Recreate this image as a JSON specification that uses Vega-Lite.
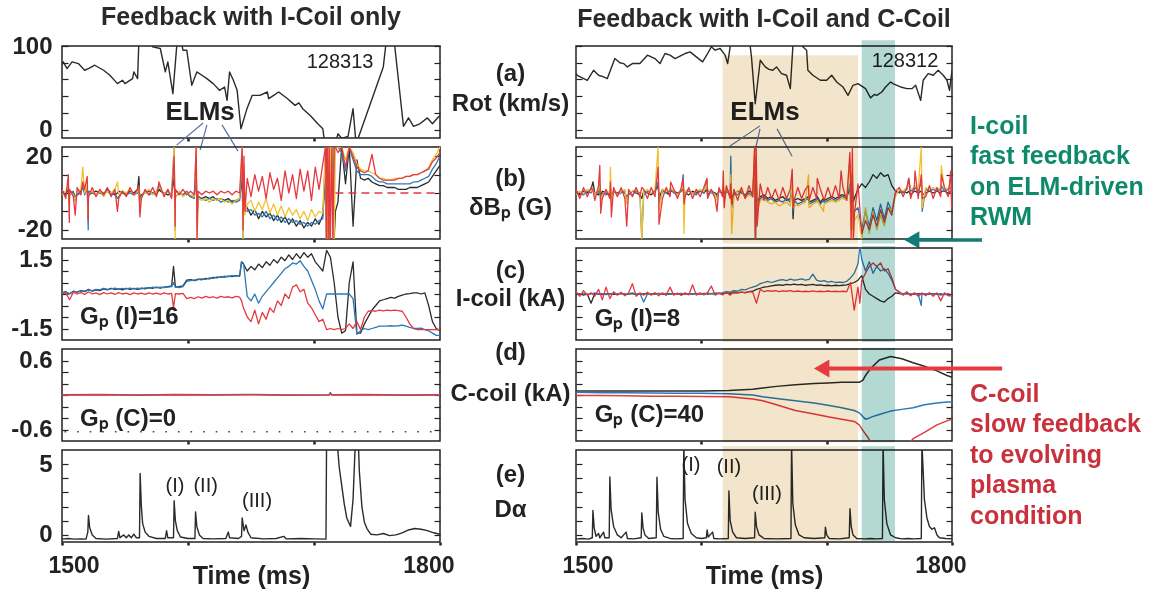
{
"$schema": "https://vega.github.io/schema/vega-lite/v6.json",
"background": "white",
"padding": {"left": 9, "top": 4, "right": 0, "bottom": 0},
"bounds": "flush",
"columns": 2,
"spacing": {"row": 9, "column": 136},
"config": {
  "view": {"stroke": "#222", "strokeWidth": 1.5},
  "axis": {"domain": false, "grid": false, "tickColor": "#222", "tickWidth": 1.2, "labelColor": "#222", "titleColor": "#222", "labelFont": "Liberation Sans", "titleFont": "Liberation Sans", "labelFontWeight": "bold", "titleFontWeight": "bold", "labelFontSize": 24, "titleFontSize": 24},
  "title": {"font": "Liberation Sans", "fontSize": 25, "fontWeight": "bold", "color": "#2a2a2a"},
  "text": {"font": "Liberation Sans", "color": "#222"}
},
"datasets": {
  "la": [{"t":1500,"v":78},{"t":1501,"v":81},{"t":1504,"v":73},{"t":1508,"v":81},{"t":1513,"v":79},{"t":1518,"v":71},{"t":1521,"v":73},{"t":1526,"v":77},{"t":1533,"v":71},{"t":1538,"v":65},{"t":1544,"v":55},{"t":1548,"v":59},{"t":1550,"v":55},{"t":1556,"v":61},{"t":1557,"v":69},{"t":1560,"v":61},{"t":1561,"v":105},{"t":1566,"v":112},{"t":1572,"v":99},{"t":1578,"v":97},{"t":1582,"v":69},{"t":1584,"v":81},{"t":1588,"v":43},{"t":1591,"v":99},{"t":1594,"v":110},{"t":1596,"v":95},{"t":1599,"v":95},{"t":1603,"v":53},{"t":1607,"v":69},{"t":1611,"v":65},{"t":1615,"v":61},{"t":1620,"v":55},{"t":1625,"v":47},{"t":1629,"v":51},{"t":1631,"v":35},{"t":1633,"v":69},{"t":1636,"v":59},{"t":1639,"v":47},{"t":1642,"v":1},{"t":1647,"v":26},{"t":1651,"v":41},{"t":1657,"v":41},{"t":1663,"v":45},{"t":1664,"v":37},{"t":1668,"v":41},{"t":1672,"v":45},{"t":1679,"v":37},{"t":1685,"v":29},{"t":1688,"v":32},{"t":1691,"v":25},{"t":1697,"v":17},{"t":1703,"v":7},{"t":1707,"v":1},{"t":1708,"v":-10.5},{"t":1718,"v":-10.5},{"t":1719,"v":-5},{"t":1722,"v":-10.5},{"t":1727,"v":-8},{"t":1731,"v":25},{"t":1733,"v":-10.5},{"t":1735,"v":-10.5},{"t":1755,"v":75},{"t":1758,"v":115},{"t":1763,"v":115},{"t":1771,"v":4},{"t":1775,"v":14},{"t":1779,"v":4},{"t":1784,"v":7},{"t":1790,"v":14},{"t":1794,"v":7},{"t":1798,"v":14},{"t":1800,"v":17}],
  "ra": [{"t":1500,"v":67},{"t":1501,"v":65},{"t":1505,"v":62},{"t":1509,"v":59},{"t":1514,"v":71},{"t":1518,"v":65},{"t":1522,"v":63},{"t":1525,"v":61},{"t":1531,"v":85},{"t":1535,"v":80},{"t":1538,"v":79},{"t":1541,"v":75},{"t":1545,"v":79},{"t":1551,"v":79},{"t":1557,"v":89},{"t":1563,"v":85},{"t":1567,"v":79},{"t":1571,"v":91},{"t":1575,"v":89},{"t":1579,"v":85},{"t":1583,"v":88},{"t":1587,"v":91},{"t":1591,"v":93},{"t":1596,"v":87},{"t":1601,"v":81},{"t":1605,"v":91},{"t":1608,"v":99},{"t":1611,"v":95},{"t":1615,"v":97},{"t":1619,"v":89},{"t":1621,"v":79},{"t":1623,"v":99},{"t":1625,"v":112},{"t":1638,"v":112},{"t":1640,"v":87},{"t":1643,"v":31},{"t":1647,"v":83},{"t":1651,"v":75},{"t":1654,"v":72},{"t":1657,"v":71},{"t":1660,"v":75},{"t":1664,"v":67},{"t":1668,"v":65},{"t":1671,"v":49},{"t":1673,"v":99},{"t":1675,"v":112},{"t":1679,"v":112},{"t":1681,"v":99},{"t":1684,"v":95},{"t":1685,"v":71},{"t":1689,"v":65},{"t":1692,"v":62},{"t":1695,"v":59},{"t":1700,"v":59},{"t":1704,"v":65},{"t":1708,"v":57},{"t":1713,"v":51},{"t":1717,"v":41},{"t":1721,"v":53},{"t":1725,"v":55},{"t":1731,"v":49},{"t":1735,"v":38},{"t":1738,"v":42},{"t":1740,"v":41},{"t":1744,"v":45},{"t":1747,"v":51},{"t":1751,"v":57},{"t":1753,"v":55},{"t":1756,"v":53},{"t":1759,"v":51},{"t":1764,"v":49},{"t":1768,"v":49},{"t":1771,"v":53},{"t":1775,"v":35},{"t":1777,"v":59},{"t":1781,"v":67},{"t":1785,"v":65},{"t":1789,"v":71},{"t":1793,"v":65},{"t":1796,"v":59},{"t":1798,"v":47},{"t":1800,"v":71}],
  "lb": [
{"t":1500,"a":0,"b":1,"c":-1,"d":2},{"t":1503,"a":-1,"b":0,"c":1,"d":-3},{"t":1506,"a":1,"b":-1,"c":0,"d":2},{"t":1509,"a":0,"b":1,"c":-1,"d":-2},{"t":1512,"a":-1,"b":-1,"c":1,"d":3},{"t":1515,"a":1,"b":0,"c":2,"d":-1},{"t":1518,"a":0,"b":-1,"c":0,"d":2},{"t":1521,"a":-1,"b":1,"c":-1,"d":-2},{"t":1524,"a":0,"b":0,"c":1,"d":3},{"t":1527,"a":1,"b":-1,"c":-1,"d":-2},{"t":1530,"a":0,"b":1,"c":1,"d":2},{"t":1533,"a":-1,"b":0,"c":-2,"d":-1},{"t":1536,"a":2,"b":1,"c":1,"d":3},{"t":1539,"a":0,"b":-1,"c":0,"d":-2},{"t":1542,"a":-1,"b":0,"c":2,"d":2},{"t":1545,"a":1,"b":-2,"c":-1,"d":-3},{"t":1548,"a":0,"b":1,"c":1,"d":1},{"t":1551,"a":-1,"b":-1,"c":0,"d":-2},{"t":1554,"a":1,"b":0,"c":2,"d":3},{"t":1557,"a":0,"b":-1,"c":-1,"d":-1},{"t":1560,"a":2,"b":0,"c":1,"d":2},{"t":1563,"a":-1,"b":-2,"c":-2,"d":-3},{"t":1566,"a":0,"b":1,"c":0,"d":2},{"t":1569,"a":1,"b":-1,"c":2,"d":-1},{"t":1572,"a":0,"b":0,"c":-1,"d":3},{"t":1575,"a":-1,"b":1,"c":1,"d":-2},{"t":1578,"a":1,"b":2,"c":3,"d":4},{"t":1581,"a":0,"b":-1,"c":-1,"d":-2},{"t":1584,"a":-1,"b":1,"c":2,"d":2},{"t":1587,"a":0,"b":-1,"c":-2,"d":-3},{"t":1590,"a":1,"b":-2,"c":-3,"d":2},{"t":1593,"a":0,"b":0,"c":1,"d":-1},{"t":1596,"a":-1,"b":-1,"c":-2,"d":2},{"t":1599,"a":0,"b":1,"c":0,"d":-1},{"t":1602,"a":-2,"b":-2,"c":-1,"d":1},{"t":1605,"a":-1,"b":-3,"c":-2,"d":-1},{"t":1608,"a":-2,"b":-2,"c":-3,"d":1},{"t":1611,"a":-3,"b":-3,"c":-4,"d":-1},{"t":1614,"a":-2,"b":-4,"c":-3,"d":1},{"t":1617,"a":-3,"b":-3,"c":-5,"d":0},{"t":1620,"a":-2,"b":-4,"c":-3,"d":1},{"t":1623,"a":-4,"b":-3,"c":-4,"d":-1},{"t":1626,"a":-3,"b":-5,"c":-3,"d":1},{"t":1629,"a":-4,"b":-4,"c":-5,"d":0},{"t":1632,"a":-3,"b":-5,"c":-4,"d":1},{"t":1635,"a":-5,"b":-4,"c":-6,"d":-1},{"t":1638,"a":-4,"b":-5,"c":-4,"d":1},{"t":1641,"a":-3,"b":-4,"c":-3,"d":0},{"t":1647,"a":-8,"b":-10,"c":-6,"d":8},{"t":1650,"a":-12,"b":-9,"c":-4,"d":-2},{"t":1653,"a":-9,"b":-12,"c":-10,"d":10},{"t":1656,"a":-14,"b":-11,"c":-5,"d":1},{"t":1659,"a":-10,"b":-13,"c":-9,"d":9},{"t":1662,"a":-13,"b":-10,"c":-3,"d":-3},{"t":1665,"a":-11,"b":-14,"c":-11,"d":11},{"t":1668,"a":-15,"b":-12,"c":-6,"d":2},{"t":1671,"a":-12,"b":-15,"c":-12,"d":8},{"t":1674,"a":-16,"b":-13,"c":-7,"d":-4},{"t":1677,"a":-13,"b":-16,"c":-13,"d":12},{"t":1680,"a":-17,"b":-14,"c":-8,"d":0},{"t":1683,"a":-14,"b":-16,"c":-12,"d":10},{"t":1686,"a":-18,"b":-15,"c":-9,"d":-3},{"t":1689,"a":-15,"b":-17,"c":-14,"d":13},{"t":1692,"a":-19,"b":-16,"c":-10,"d":1},{"t":1695,"a":-16,"b":-18,"c":-15,"d":12},{"t":1698,"a":-18,"b":-16,"c":-9,"d":-4},{"t":1701,"a":-14,"b":-17,"c":-13,"d":14},{"t":1704,"a":-17,"b":-15,"c":-10,"d":2},{"t":1707,"a":-12,"b":-14,"c":-11,"d":16},{"t":1710,"a":-15,"b":-25,"c":-25,"d":25},{"t":1713,"a":-25,"b":25,"c":25,"d":-25},{"t":1716,"a":-25,"b":25,"c":-25,"d":25},{"t":1719,"a":-5,"b":25,"c":25,"d":22},{"t":1722,"a":25,"b":22,"c":25,"d":25},{"t":1725,"a":5,"b":12,"c":18,"d":14},{"t":1728,"a":25,"b":25,"c":25,"d":25},{"t":1731,"a":-18,"b":18,"c":22,"d":20},{"t":1734,"a":18,"b":12,"c":16,"d":14},{"t":1737,"a":8,"b":10,"c":13,"d":12},{"t":1740,"a":7,"b":10,"c":12,"d":11},{"t":1743,"a":8,"b":10,"c":12,"d":12},{"t":1746,"a":6,"b":9,"c":11,"d":21},{"t":1749,"a":5,"b":7,"c":10,"d":10},{"t":1752,"a":4,"b":6,"c":8,"d":8},{"t":1755,"a":4,"b":6,"c":8,"d":7},{"t":1758,"a":3,"b":5,"c":7,"d":7},{"t":1761,"a":3,"b":5,"c":7,"d":7},{"t":1764,"a":3,"b":5,"c":8,"d":7},{"t":1767,"a":2,"b":5,"c":8,"d":8},{"t":1770,"a":2,"b":5,"c":8,"d":8},{"t":1773,"a":2,"b":5,"c":9,"d":9},{"t":1776,"a":3,"b":5,"c":9,"d":9},{"t":1779,"a":3,"b":6,"c":10,"d":10},{"t":1782,"a":3,"b":6,"c":10,"d":10},{"t":1785,"a":4,"b":7,"c":11,"d":11},{"t":1788,"a":5,"b":8,"c":12,"d":12},{"t":1791,"a":6,"b":9,"c":14,"d":13},{"t":1794,"a":9,"b":13,"c":18,"d":17},{"t":1797,"a":12,"b":16,"c":21,"d":19},{"t":1800,"a":15,"b":20,"c":25,"d":22},
{"t":1505,"a":2,"b":3,"c":4,"d":10},{"t":1505.8,"a":-3,"b":-5,"c":-6,"d":-16},{"t":1510.5,"a":-2,"b":-4,"c":-4,"d":-12},{"t":1516.5,"a":3,"b":5,"c":14,"d":6},{"t":1520,"a":2,"b":3,"c":4,"d":9},{"t":1520.8,"a":-6,"b":-20,"c":-12,"d":-15},{"t":1544,"a":0,"b":-3,"c":6,"d":-10},{"t":1561,"a":9,"b":3,"c":3,"d":4},{"t":1561.8,"a":-4,"b":-6,"c":-8,"d":-13},{"t":1577,"a":2,"b":4,"c":3,"d":6},{"t":1589,"a":8,"b":25,"c":25,"d":20},{"t":1589.8,"a":-6,"b":-20,"c":-25,"d":-18},{"t":1606.5,"a":10,"b":12,"c":25,"d":25},{"t":1607.2,"a":-10,"b":-15,"c":-25,"d":-25},{"t":1643,"a":8,"b":15,"c":25,"d":25},{"t":1643.7,"a":-18,"b":-25,"c":-25,"d":-20},{"t":1644.4,"a":5,"b":8,"c":15,"d":20},{"t":1645.2,"a":-6,"b":-8,"c":-12,"d":-10},{"t":1709.2,"a":10,"b":25,"c":25,"d":25},{"t":1709.8,"a":-15,"b":-25,"c":-25,"d":-25},{"t":1710.6,"a":-10,"b":25,"c":25,"d":25},{"t":1711.3,"a":-20,"b":-25,"c":-25,"d":-25},{"t":1712.1,"a":5,"b":25,"c":25,"d":25},{"t":1712.7,"a":-25,"b":-25,"c":-25,"d":-25},{"t":1714.2,"a":-25,"b":25,"c":25,"d":25},{"t":1715,"a":-25,"b":-25,"c":-25,"d":-25},{"t":1717,"a":-10,"b":25,"c":25,"d":25}
  ],
  "rb": [
{"t":1500,"a":0,"b":1,"c":-1,"d":2},{"t":1503,"a":-1,"b":0,"c":1,"d":-3},{"t":1506,"a":1,"b":-1,"c":0,"d":3},{"t":1509,"a":0,"b":1,"c":2,"d":-2},{"t":1512,"a":2,"b":0,"c":1,"d":3},{"t":1515,"a":0,"b":-1,"c":-1,"d":-4},{"t":1518,"a":-1,"b":1,"c":2,"d":4},{"t":1521,"a":1,"b":0,"c":-1,"d":-3},{"t":1524,"a":0,"b":-1,"c":1,"d":2},{"t":1527,"a":-1,"b":0,"c":0,"d":-3},{"t":1530,"a":1,"b":1,"c":2,"d":3},{"t":1533,"a":0,"b":-1,"c":-1,"d":-2},{"t":1536,"a":1,"b":0,"c":1,"d":3},{"t":1539,"a":0,"b":1,"c":2,"d":-3},{"t":1542,"a":-1,"b":0,"c":0,"d":2},{"t":1545,"a":1,"b":-1,"c":1,"d":-2},{"t":1548,"a":0,"b":1,"c":2,"d":3},{"t":1551,"a":-1,"b":0,"c":-1,"d":-2},{"t":1554,"a":1,"b":-1,"c":1,"d":2},{"t":1557,"a":0,"b":1,"c":2,"d":-3},{"t":1560,"a":-1,"b":0,"c":0,"d":3},{"t":1563,"a":1,"b":1,"c":2,"d":-2},{"t":1566,"a":0,"b":-1,"c":1,"d":2},{"t":1569,"a":2,"b":1,"c":2,"d":-3},{"t":1572,"a":0,"b":0,"c":1,"d":3},{"t":1575,"a":-1,"b":1,"c":2,"d":-2},{"t":1578,"a":1,"b":0,"c":1,"d":2},{"t":1581,"a":0,"b":-1,"c":-1,"d":-3},{"t":1584,"a":1,"b":1,"c":2,"d":3},{"t":1587,"a":0,"b":0,"c":1,"d":-2},{"t":1590,"a":-1,"b":1,"c":2,"d":3},{"t":1593,"a":1,"b":0,"c":-1,"d":-3},{"t":1596,"a":0,"b":-1,"c":1,"d":2},{"t":1599,"a":1,"b":1,"c":2,"d":-2},{"t":1602,"a":0,"b":0,"c":1,"d":3},{"t":1605,"a":-1,"b":1,"c":2,"d":-3},{"t":1608,"a":1,"b":0,"c":1,"d":2},{"t":1611,"a":0,"b":-1,"c":-1,"d":-3},{"t":1614,"a":1,"b":1,"c":2,"d":3},{"t":1617,"a":0,"b":0,"c":1,"d":-2},{"t":1620,"a":2,"b":1,"c":2,"d":4},{"t":1623,"a":0,"b":-1,"c":0,"d":-3},{"t":1626,"a":-1,"b":0,"c":-2,"d":2},{"t":1629,"a":1,"b":-1,"c":1,"d":-4},{"t":1632,"a":0,"b":1,"c":2,"d":3},{"t":1635,"a":-1,"b":-2,"c":-3,"d":-3},{"t":1638,"a":1,"b":0,"c":-1,"d":4},{"t":1641,"a":0,"b":-2,"c":-2,"d":-2},{"t":1647,"a":-2,"b":-3,"c":-4,"d":5},{"t":1650,"a":-1,"b":-2,"c":-3,"d":-4},{"t":1653,"a":-3,"b":-4,"c":-5,"d":3},{"t":1656,"a":-2,"b":-3,"c":-6,"d":-3},{"t":1659,"a":-4,"b":-5,"c":-5,"d":2},{"t":1662,"a":-3,"b":-4,"c":-7,"d":-4},{"t":1665,"a":-2,"b":-5,"c":-6,"d":3},{"t":1668,"a":-4,"b":-3,"c":-5,"d":-3},{"t":1671,"a":-3,"b":-5,"c":-7,"d":2},{"t":1674,"a":-4,"b":-4,"c":-6,"d":-4},{"t":1677,"a":-3,"b":-6,"c":-7,"d":3},{"t":1680,"a":-4,"b":-5,"c":-6,"d":-3},{"t":1683,"a":-3,"b":-4,"c":-5,"d":2},{"t":1686,"a":-5,"b":-6,"c":-8,"d":-4},{"t":1689,"a":-4,"b":-5,"c":-6,"d":3},{"t":1692,"a":-3,"b":-4,"c":-5,"d":-3},{"t":1695,"a":-5,"b":-6,"c":-7,"d":2},{"t":1698,"a":-4,"b":-5,"c":-6,"d":-4},{"t":1701,"a":-3,"b":-4,"c":-5,"d":3},{"t":1704,"a":-2,"b":-3,"c":-4,"d":-3},{"t":1707,"a":-3,"b":-4,"c":-5,"d":4},{"t":1710,"a":-2,"b":-3,"c":-4,"d":-3},{"t":1713,"a":-1,"b":-2,"c":-3,"d":3},{"t":1716,"a":-2,"b":-3,"c":-4,"d":-4},{"t":1719,"a":0,"b":-5,"c":-8,"d":10},{"t":1722,"a":-3,"b":-10,"c":-15,"d":-12},{"t":1725,"a":2,"b":-8,"c":-12,"d":5},{"t":1728,"a":5,"b":-20,"c":-25,"d":-22},{"t":1731,"a":3,"b":-10,"c":-8,"d":-15},{"t":1734,"a":6,"b":-18,"c":-22,"d":-20},{"t":1737,"a":10,"b":-8,"c":-10,"d":-12},{"t":1740,"a":8,"b":-15,"c":-20,"d":-18},{"t":1743,"a":11,"b":-6,"c":-12,"d":-9},{"t":1746,"a":9,"b":-14,"c":-18,"d":-16},{"t":1749,"a":10,"b":-5,"c":-8,"d":-8},{"t":1752,"a":4,"b":-10,"c":-9,"d":-12},{"t":1755,"a":1,"b":0,"c":-2,"d":1},{"t":1758,"a":0,"b":1,"c":2,"d":3},{"t":1761,"a":1,"b":0,"c":1,"d":-2},{"t":1764,"a":0,"b":2,"c":3,"d":3},{"t":1767,"a":-1,"b":1,"c":2,"d":-3},{"t":1770,"a":1,"b":2,"c":3,"d":4},{"t":1773,"a":0,"b":1,"c":2,"d":-3},{"t":1776,"a":1,"b":0,"c":2,"d":3},{"t":1779,"a":0,"b":2,"c":3,"d":-2},{"t":1782,"a":1,"b":1,"c":2,"d":4},{"t":1785,"a":0,"b":2,"c":3,"d":-3},{"t":1788,"a":1,"b":1,"c":2,"d":3},{"t":1791,"a":0,"b":2,"c":3,"d":-2},{"t":1794,"a":1,"b":1,"c":2,"d":3},{"t":1797,"a":0,"b":2,"c":3,"d":-2},{"t":1800,"a":1,"b":1,"c":2,"d":3},
{"t":1513.5,"a":6,"b":2,"c":2,"d":2},{"t":1519,"a":2,"b":4,"c":5,"d":15},{"t":1519.7,"a":-2,"b":-4,"c":-5,"d":-11},{"t":1527.5,"a":1,"b":3,"c":14,"d":6},{"t":1528.2,"a":-1,"b":-4,"c":-5,"d":-13},{"t":1540.5,"a":-2,"b":-5,"c":-6,"d":-18},{"t":1552.5,"a":-3,"b":-25,"c":-25,"d":3},{"t":1565.5,"a":4,"b":6,"c":25,"d":14},{"t":1566.2,"a":-3,"b":-6,"c":-10,"d":-17},{"t":1575.5,"a":1,"b":2,"c":3,"d":6},{"t":1585.5,"a":2,"b":10,"c":5,"d":8},{"t":1586.2,"a":-2,"b":-5,"c":-22,"d":-6},{"t":1604.5,"a":2,"b":7,"c":5,"d":8},{"t":1612.5,"a":-1,"b":-2,"c":-4,"d":-10},{"t":1617.5,"a":2,"b":4,"c":5,"d":12},{"t":1618.2,"a":-1,"b":-3,"c":-4,"d":-8},{"t":1623.5,"a":3,"b":20,"c":10,"d":5},{"t":1624.2,"a":-2,"b":-8,"c":-22,"d":-6},{"t":1642.5,"a":15,"b":20,"c":25,"d":25},{"t":1643.2,"a":-25,"b":-25,"c":-20,"d":-25},{"t":1643.8,"a":5,"b":10,"c":20,"d":25},{"t":1644.5,"a":-5,"b":-8,"c":-10,"d":-18},{"t":1672.5,"a":3,"b":4,"c":6,"d":13},{"t":1673.2,"a":-14,"b":-10,"c":-8,"d":-8},{"t":1685.5,"a":-2,"b":-3,"c":10,"d":4},{"t":1692.5,"a":-2,"b":-3,"c":-4,"d":8},{"t":1697.5,"a":-3,"b":-4,"c":-10,"d":-3},{"t":1711.5,"a":-1,"b":-2,"c":-3,"d":12},{"t":1718.5,"a":2,"b":5,"c":18,"d":22},{"t":1719.5,"a":-5,"b":-10,"c":-20,"d":-25},{"t":1720.5,"a":3,"b":10,"c":5,"d":25},{"t":1721.3,"a":-5,"b":-20,"c":-25,"d":-25},{"t":1765.5,"a":1,"b":8,"c":4,"d":8},{"t":1770.5,"a":1,"b":3,"c":4,"d":12},{"t":1775.5,"a":1,"b":6,"c":25,"d":10},{"t":1776.2,"a":-1,"b":-10,"c":-8,"d":-3},{"t":1791.5,"a":1,"b":4,"c":15,"d":10},{"t":1799,"a":1,"b":3,"c":4,"d":12},{"t":1799.7,"a":0,"b":-2,"c":-3,"d":-8}
  ],
  "lc": [
{"t":1500,"a":0.05,"b":0.05,"d":0},{"t":1503,"a":0.1,"b":0.08,"d":0.05},{"t":1506,"a":0,"b":0.02,"d":-0.25},{"t":1509,"a":0.12,"b":0.1,"d":0.08},{"t":1512,"a":0.08,"b":0.1,"d":0},{"t":1515,"a":0.15,"b":0.12,"d":0.06},{"t":1518,"a":0.1,"b":0.14,"d":-0.02},{"t":1521,"a":0.2,"b":0.18,"d":0.1},{"t":1524,"a":0.12,"b":0.15,"d":0},{"t":1527,"a":0.18,"b":0.2,"d":0.05},{"t":1530,"a":0.15,"b":0.18,"d":-0.03},{"t":1533,"a":0.22,"b":0.25,"d":0.06},{"t":1536,"a":0.18,"b":0.2,"d":0},{"t":1539,"a":0.25,"b":0.22,"d":0.05},{"t":1542,"a":0.2,"b":0.26,"d":-0.02},{"t":1545,"a":0.22,"b":0.2,"d":0.06},{"t":1548,"a":0.18,"b":0.24,"d":0},{"t":1551,"a":0.25,"b":0.22,"d":0.04},{"t":1554,"a":0.2,"b":0.26,"d":-0.03},{"t":1557,"a":0.24,"b":0.22,"d":0.05},{"t":1560,"a":0.2,"b":0.25,"d":0},{"t":1563,"a":0.26,"b":0.22,"d":0.04},{"t":1566,"a":0.22,"b":0.27,"d":-0.02},{"t":1569,"a":0.28,"b":0.25,"d":0.05},{"t":1572,"a":0.25,"b":0.3,"d":0},{"t":1575,"a":0.3,"b":0.27,"d":0.04},{"t":1578,"a":0.26,"b":0.3,"d":-0.02},{"t":1581,"a":0.3,"b":0.28,"d":0.05},{"t":1584,"a":0.32,"b":0.3,"d":0},{"t":1587,"a":0.35,"b":0.32,"d":0.03},{"t":1588.5,"a":1.2,"b":0.5,"d":-0.6},{"t":1590,"a":0.3,"b":0.3,"d":0.02},{"t":1593,"a":0.32,"b":0.28,"d":0},{"t":1596,"a":0.35,"b":0.32,"d":0.03},{"t":1599,"a":0.6,"b":0.55,"d":-0.2},{"t":1602,"a":0.62,"b":0.58,"d":-0.15},{"t":1605,"a":0.58,"b":0.6,"d":-0.2},{"t":1608,"a":0.65,"b":0.62,"d":-0.12},{"t":1611,"a":0.62,"b":0.66,"d":-0.18},{"t":1614,"a":0.68,"b":0.64,"d":-0.1},{"t":1617,"a":0.66,"b":0.7,"d":-0.16},{"t":1620,"a":0.72,"b":0.68,"d":-0.12},{"t":1623,"a":0.7,"b":0.74,"d":-0.18},{"t":1626,"a":0.75,"b":0.72,"d":-0.1},{"t":1629,"a":0.73,"b":0.78,"d":-0.15},{"t":1632,"a":0.78,"b":0.75,"d":-0.12},{"t":1635,"a":0.76,"b":0.8,"d":-0.17},{"t":1638,"a":0.8,"b":0.78,"d":-0.1},{"t":1641,"a":0.78,"b":0.82,"d":-0.14},{"t":1642.5,"a":1.4,"b":1.4,"d":-0.3},{"t":1644,"a":1.3,"b":1.35,"d":-0.6},{"t":1647,"a":1.0,"b":-0.1,"d":-1.0},{"t":1650,"a":1.2,"b":-0.3,"d":-1.2},{"t":1653,"a":1.05,"b":0,"d":-0.7},{"t":1656,"a":1.3,"b":-0.4,"d":-1.3},{"t":1659,"a":1.15,"b":-0.1,"d":-0.8},{"t":1662,"a":1.4,"b":0.1,"d":-1.1},{"t":1665,"a":1.25,"b":0.3,"d":-0.6},{"t":1668,"a":1.5,"b":0.5,"d":-0.8},{"t":1671,"a":1.35,"b":0.7,"d":-0.3},{"t":1674,"a":1.6,"b":0.9,"d":-0.5},{"t":1677,"a":1.45,"b":1.1,"d":0},{"t":1680,"a":1.7,"b":1.2,"d":-0.2},{"t":1683,"a":1.5,"b":1.35,"d":0.3},{"t":1686,"a":1.75,"b":1.3,"d":0.4},{"t":1689,"a":1.55,"b":1.45,"d":0.1},{"t":1692,"a":1.8,"b":1.2,"d":0.2},{"t":1695,"a":1.6,"b":1.0,"d":-0.4},{"t":1698,"a":1.75,"b":0.6,"d":-0.6},{"t":1701,"a":1.4,"b":0.2,"d":-0.9},{"t":1704,"a":1.2,"b":-0.3,"d":-1.2},{"t":1707,"a":1.0,"b":-0.65,"d":-1.1},{"t":1710,"a":1.9,"b":0,"d":-1.55},{"t":1713,"a":1.6,"b":0,"d":-1.5},{"t":1716,"a":0.5,"b":0,"d":-1.55},{"t":1719,"a":-1.0,"b":0,"d":-1.5},{"t":1722,"a":-1.7,"b":0,"d":-1.55},{"t":1725,"a":-1.6,"b":0,"d":-1.5},{"t":1728,"a":0.5,"b":0,"d":-1.3},{"t":1731,"a":1.4,"b":-0.2,"d":-1.5},{"t":1734,"a":-1.7,"b":-1.75,"d":-1.2},{"t":1737,"a":-1.7,"b":-1.6,"d":-1.55},{"t":1740,"a":-1.3,"b":-1.5,"d":-1.0},{"t":1743,"a":-1.0,"b":-1.55,"d":-0.75},{"t":1746,"a":-0.7,"b":-1.5,"d":-0.72},{"t":1749,"a":-0.5,"b":-1.45,"d":-0.75},{"t":1752,"a":-0.3,"b":-1.4,"d":-0.7},{"t":1755,"a":-0.25,"b":-1.4,"d":-0.73},{"t":1758,"a":-0.2,"b":-1.4,"d":-0.7},{"t":1761,"a":-0.15,"b":-1.38,"d":-0.72},{"t":1764,"a":-0.18,"b":-1.4,"d":-0.7},{"t":1767,"a":-0.1,"b":-1.38,"d":-0.72},{"t":1770,"a":-0.05,"b":-1.35,"d":-0.75},{"t":1773,"a":0,"b":-1.4,"d":-1.0},{"t":1776,"a":0.02,"b":-1.45,"d":-1.3},{"t":1779,"a":0.05,"b":-1.5,"d":-1.5},{"t":1782,"a":0.05,"b":-1.5,"d":-1.55},{"t":1785,"a":0,"b":-1.48,"d":-1.55},{"t":1788,"a":0.05,"b":-1.55,"d":-1.55},{"t":1791,"a":-0.5,"b":-1.6,"d":-1.55},{"t":1794,"a":-1.2,"b":-1.7,"d":-1.55},{"t":1797,"a":-1.5,"b":-1.8,"d":-1.55},{"t":1800,"a":-1.6,"b":-1.8,"d":-1.55}
  ],
  "rc": [
{"t":1500,"a":0,"b":0.05,"d":0.1},{"t":1503,"a":0.02,"b":0,"d":-0.1},{"t":1506,"a":-0.05,"b":0.03,"d":0.15},{"t":1509,"a":0,"b":-0.02,"d":-0.05},{"t":1512,"a":-0.4,"b":0,"d":0.05},{"t":1515,"a":0.02,"b":0.05,"d":-0.1},{"t":1518,"a":0,"b":0,"d":0.2},{"t":1521,"a":-0.03,"b":0.02,"d":-0.25},{"t":1524,"a":0,"b":-0.03,"d":0.3},{"t":1527,"a":0.02,"b":0,"d":-0.2},{"t":1530,"a":-0.02,"b":0.03,"d":0.1},{"t":1533,"a":0,"b":0,"d":-0.05},{"t":1536,"a":0.03,"b":0.02,"d":0.08},{"t":1539,"a":-0.02,"b":0,"d":-0.08},{"t":1542,"a":0,"b":0.02,"d":0.05},{"t":1545,"a":0.02,"b":0.05,"d":0.45},{"t":1548,"a":-0.03,"b":0,"d":-0.1},{"t":1551,"a":0,"b":0.02,"d":0.05},{"t":1554,"a":0,"b":-0.35,"d":-0.05},{"t":1557,"a":0.02,"b":0,"d":0.08},{"t":1560,"a":-0.02,"b":0.02,"d":-0.05},{"t":1563,"a":0,"b":0,"d":0.06},{"t":1566,"a":0.03,"b":0.02,"d":-0.08},{"t":1569,"a":0,"b":0,"d":0.05},{"t":1572,"a":-0.02,"b":0.03,"d":-0.06},{"t":1575,"a":0,"b":0,"d":0.3},{"t":1578,"a":0.02,"b":0.02,"d":-0.05},{"t":1581,"a":0,"b":0,"d":0.04},{"t":1584,"a":-0.02,"b":0.03,"d":-0.06},{"t":1587,"a":0,"b":0,"d":0.05},{"t":1590,"a":0.02,"b":0.02,"d":-0.04},{"t":1593,"a":0,"b":0,"d":0.4},{"t":1596,"a":0.02,"b":0.03,"d":-0.05},{"t":1599,"a":0,"b":0.02,"d":0.05},{"t":1602,"a":0.03,"b":0,"d":-0.04},{"t":1605,"a":0,"b":0.04,"d":0.06},{"t":1608,"a":0.02,"b":0.02,"d":0.35},{"t":1611,"a":0,"b":0.05,"d":-0.05},{"t":1614,"a":0.03,"b":0.03,"d":0.05},{"t":1617,"a":0,"b":0.06,"d":-0.04},{"t":1620,"a":0.05,"b":0.1,"d":0.08},{"t":1623,"a":0.03,"b":0.08,"d":-0.05},{"t":1626,"a":0.06,"b":0.15,"d":0.1},{"t":1629,"a":0.05,"b":0.12,"d":0.05},{"t":1632,"a":0.08,"b":0.2,"d":0.08},{"t":1635,"a":0.06,"b":0.18,"d":0.05},{"t":1638,"a":0.1,"b":0.25,"d":0.1},{"t":1641,"a":0.12,"b":0.3,"d":0.08},{"t":1644,"a":0.2,"b":0.35,"d":-0.4},{"t":1647,"a":0.25,"b":0.45,"d":0.2},{"t":1650,"a":0.3,"b":0.5,"d":0.1},{"t":1653,"a":0.32,"b":0.55,"d":0.15},{"t":1656,"a":0.35,"b":0.5,"d":0.12},{"t":1659,"a":0.38,"b":0.55,"d":0.15},{"t":1662,"a":0.4,"b":0.6,"d":0.1},{"t":1665,"a":0.38,"b":0.62,"d":0.14},{"t":1668,"a":0.42,"b":0.58,"d":0.12},{"t":1671,"a":0.4,"b":0.65,"d":0.15},{"t":1674,"a":0.43,"b":0.6,"d":0.1},{"t":1677,"a":0.4,"b":0.62,"d":0.13},{"t":1680,"a":0.42,"b":0.66,"d":0.1},{"t":1683,"a":0.38,"b":0.6,"d":0.12},{"t":1686,"a":0.4,"b":0.64,"d":0.1},{"t":1689,"a":0.42,"b":0.86,"d":0.14},{"t":1692,"a":0.38,"b":0.6,"d":0.1},{"t":1695,"a":0.4,"b":0.55,"d":0.12},{"t":1698,"a":0.36,"b":0.58,"d":0.1},{"t":1701,"a":0.38,"b":0.52,"d":0.13},{"t":1704,"a":0.35,"b":0.55,"d":0.1},{"t":1707,"a":0.38,"b":0.5,"d":0.12},{"t":1710,"a":0.36,"b":0.52,"d":0.1},{"t":1713,"a":0.38,"b":0.5,"d":0.12},{"t":1716,"a":0.4,"b":0.55,"d":0.1},{"t":1719,"a":0.45,"b":0.7,"d":0.5},{"t":1722,"a":0.5,"b":0.9,"d":-0.7},{"t":1725,"a":0.6,"b":1.3,"d":0.3},{"t":1726.5,"a":0.7,"b":2.1,"d":-0.4},{"t":1728,"a":0.8,"b":1.5,"d":0.6},{"t":1731,"a":0.2,"b":1.0,"d":0.9},{"t":1734,"a":0,"b":1.4,"d":1.2},{"t":1737,"a":-0.1,"b":0.9,"d":1.35},{"t":1740,"a":-0.2,"b":1.2,"d":1.2},{"t":1743,"a":-0.3,"b":1.0,"d":1.35},{"t":1746,"a":-0.35,"b":1.1,"d":1.0},{"t":1749,"a":-0.2,"b":0.9,"d":1.1},{"t":1752,"a":-0.1,"b":0.6,"d":0.7},{"t":1755,"a":0.05,"b":0.2,"d":0.2},{"t":1758,"a":0.02,"b":0.05,"d":0.1},{"t":1761,"a":0,"b":0.02,"d":-0.05},{"t":1764,"a":0.02,"b":0.05,"d":0.1},{"t":1767,"a":-0.03,"b":0,"d":-0.08},{"t":1770,"a":0,"b":0.03,"d":0.05},{"t":1773,"a":0.02,"b":0,"d":-0.1},{"t":1775.5,"a":0,"b":-0.5,"d":0},{"t":1776,"a":0,"b":0.02,"d":0.05},{"t":1779,"a":-0.02,"b":0,"d":-0.08},{"t":1782,"a":0,"b":0.03,"d":0.06},{"t":1785,"a":0.02,"b":0,"d":-0.1},{"t":1788,"a":-0.02,"b":0.02,"d":0.05},{"t":1791,"a":0,"b":-0.05,"d":-0.3},{"t":1794,"a":-0.03,"b":0,"d":0.05},{"t":1797,"a":0,"b":-0.05,"d":-0.08},{"t":1800,"a":-0.05,"b":-0.1,"d":-0.05}
  ],
  "ld": [{"t":1500,"b":0.005,"d":0},{"t":1530,"b":0.01,"d":0.005},{"t":1560,"b":0,"d":-0.005},{"t":1590,"b":0.01,"d":0.005},{"t":1620,"b":0.005,"d":0},{"t":1650,"b":0.01,"d":0.005},{"t":1680,"b":0,"d":-0.005},{"t":1712,"b":0.005,"d":0},{"t":1713,"b":0.04,"d":0.03},{"t":1714,"b":0.005,"d":0},{"t":1740,"b":0.01,"d":0.005},{"t":1770,"b":0,"d":-0.005},{"t":1800,"b":0.005,"d":0}],
  "rd": [{"t":1500,"a":0.07,"b":0.05,"d":-0.01},{"t":1520,"a":0.07,"b":0.04,"d":-0.01},{"t":1540,"a":0.07,"b":0.04,"d":-0.015},{"t":1560,"a":0.07,"b":0.035,"d":-0.02},{"t":1580,"a":0.07,"b":0.03,"d":-0.02},{"t":1600,"a":0.07,"b":0.03,"d":-0.025},{"t":1622,"a":0.08,"b":0.02,"d":-0.03},{"t":1641,"a":0.1,"b":0,"d":-0.07},{"t":1649,"a":0.12,"b":-0.03,"d":-0.1},{"t":1660,"a":0.15,"b":-0.06,"d":-0.17},{"t":1675,"a":0.18,"b":-0.1,"d":-0.27},{"t":1690,"a":0.2,"b":-0.14,"d":-0.33},{"t":1701,"a":0.21,"b":-0.18,"d":-0.38},{"t":1712,"a":0.22,"b":-0.22,"d":-0.42},{"t":1722,"a":0.22,"b":-0.27,"d":-0.46},{"t":1726,"a":0.22,"b":-0.31,"d":-0.52},{"t":1729,"a":0.26,"b":-0.38,"d":-0.62},{"t":1731,"a":0.34,"b":-0.42,"d":-0.68},{"t":1733,"a":0.4,"b":-0.41,"d":-0.74},{"t":1736,"a":0.48,"b":-0.38,"d":-0.85},{"t":1742,"a":0.61,"b":-0.34,"d":-1.0},{"t":1751,"a":0.67,"b":-0.28,"d":-1.05},{"t":1760,"a":0.63,"b":-0.25,"d":-1.0},{"t":1769,"a":0.56,"b":-0.22,"d":-0.76},{"t":1778,"a":0.5,"b":-0.17,"d":-0.65},{"t":1788,"a":0.42,"b":-0.14,"d":-0.52},{"t":1796,"a":0.34,"b":-0.12,"d":-0.45},{"t":1800,"a":0.31,"b":-0.12,"d":-0.42}],
  "le": [{"t":1500,"v":-0.3},{"t":1505,"v":-0.25},{"t":1510,"v":-0.3},{"t":1515,"v":-0.28},{"t":1519,"v":-0.3},{"t":1520.5,"v":0.2},{"t":1521,"v":1.38},{"t":1522,"v":0.5},{"t":1524,"v":0},{"t":1527,"v":-0.25},{"t":1535,"v":-0.3},{"t":1544,"v":-0.25},{"t":1545,"v":0.25},{"t":1546,"v":-0.2},{"t":1549,"v":0},{"t":1551,"v":-0.2},{"t":1553,"v":0},{"t":1555,"v":-0.2},{"t":1557,"v":0.05},{"t":1559,"v":-0.2},{"t":1561.5,"v":-0.2},{"t":1562,"v":4.35},{"t":1563,"v":2.0},{"t":1564,"v":0.8},{"t":1566,"v":0.2},{"t":1569,"v":-0.1},{"t":1575,"v":-0.25},{"t":1582,"v":-0.25},{"t":1583,"v":0.3},{"t":1584,"v":-0.2},{"t":1588.5,"v":-0.2},{"t":1589,"v":2.42},{"t":1590,"v":1.0},{"t":1591.5,"v":0.3},{"t":1594,"v":-0.15},{"t":1600,"v":-0.25},{"t":1605.5,"v":-0.25},{"t":1606,"v":1.63},{"t":1607,"v":0.6},{"t":1609,"v":0},{"t":1612,"v":-0.25},{"t":1620,"v":-0.28},{"t":1630,"v":-0.25},{"t":1632,"v":0.2},{"t":1633,"v":-0.2},{"t":1640,"v":-0.25},{"t":1642.5,"v":-0.1},{"t":1643,"v":1.2},{"t":1644.5,"v":0.3},{"t":1646,"v":0.7},{"t":1647.5,"v":0.2},{"t":1650,"v":-0.2},{"t":1660,"v":-0.28},{"t":1670,"v":-0.25},{"t":1676,"v":-0.1},{"t":1678,"v":-0.28},{"t":1690,"v":-0.25},{"t":1700,"v":-0.28},{"t":1709.5,"v":-0.3},{"t":1710,"v":7},{"t":1718,"v":7},{"t":1720,"v":4.8},{"t":1722,"v":3.5},{"t":1724,"v":2.2},{"t":1726,"v":1.2},{"t":1729,"v":0.6},{"t":1731,"v":2.5},{"t":1733,"v":7},{"t":1735,"v":7},{"t":1736,"v":4.5},{"t":1738,"v":2.0},{"t":1740,"v":0.9},{"t":1742,"v":0.45},{"t":1745,"v":0.05},{"t":1750,"v":0},{"t":1755,"v":0.1},{"t":1760,"v":-0.05},{"t":1765,"v":0},{"t":1770,"v":0.15},{"t":1775,"v":0.35},{"t":1780,"v":0.45},{"t":1785,"v":0.4},{"t":1790,"v":0.3},{"t":1795,"v":0.15},{"t":1800,"v":0.05}],
  "re": [{"t":1500,"v":-0.3},{"t":1505,"v":-0.25},{"t":1510,"v":-0.3},{"t":1513,"v":-0.2},{"t":1513.5,"v":1.73},{"t":1514.5,"v":0.5},{"t":1516,"v":-0.1},{"t":1518,"v":0.1},{"t":1519,"v":-0.2},{"t":1522,"v":0.2},{"t":1523,"v":-0.2},{"t":1526.5,"v":-0.2},{"t":1527,"v":4.1},{"t":1528,"v":1.8},{"t":1530,"v":0.6},{"t":1533,"v":0},{"t":1536,"v":-0.2},{"t":1540,"v":0.2},{"t":1541,"v":-0.25},{"t":1546,"v":-0.28},{"t":1552,"v":-0.2},{"t":1552.5,"v":1.56},{"t":1553.5,"v":0.5},{"t":1555,"v":0},{"t":1558,"v":-0.25},{"t":1564,"v":-0.2},{"t":1564.6,"v":4.07},{"t":1565.6,"v":1.6},{"t":1567.5,"v":0.4},{"t":1570,"v":-0.1},{"t":1575,"v":-0.25},{"t":1580,"v":-0.28},{"t":1585.5,"v":-0.25},{"t":1586,"v":6.5},{"t":1587,"v":2.5},{"t":1589,"v":0.8},{"t":1592,"v":0.1},{"t":1596,"v":-0.2},{"t":1600,"v":-0.25},{"t":1604,"v":-0.2},{"t":1604.6,"v":0.35},{"t":1605.5,"v":-0.15},{"t":1609,"v":0.2},{"t":1610,"v":-0.25},{"t":1615,"v":-0.28},{"t":1621.5,"v":-0.25},{"t":1622,"v":3.1},{"t":1623,"v":1.0},{"t":1625,"v":0.2},{"t":1628,"v":-0.2},{"t":1635,"v":-0.25},{"t":1642.5,"v":-0.2},{"t":1643,"v":1.6},{"t":1644,"v":0.6},{"t":1646,"v":0},{"t":1650,"v":-0.25},{"t":1660,"v":-0.28},{"t":1671.5,"v":-0.25},{"t":1672,"v":6.5},{"t":1673,"v":2.2},{"t":1675,"v":0.7},{"t":1678,"v":0},{"t":1682,"v":-0.2},{"t":1690,"v":-0.25},{"t":1698.5,"v":-0.2},{"t":1699,"v":0.55},{"t":1700,"v":0},{"t":1702,"v":-0.25},{"t":1710,"v":-0.28},{"t":1718,"v":-0.2},{"t":1718.6,"v":1.85},{"t":1719.6,"v":0.6},{"t":1721,"v":0},{"t":1724,"v":-0.25},{"t":1730,"v":-0.28},{"t":1735,"v":-0.25},{"t":1740,"v":-0.28},{"t":1744.5,"v":-0.25},{"t":1745,"v":6.5},{"t":1746,"v":2.5},{"t":1748,"v":0.8},{"t":1751,"v":0},{"t":1755,"v":-0.2},{"t":1760,"v":-0.28},{"t":1765,"v":-0.25},{"t":1770,"v":-0.28},{"t":1775.5,"v":-0.25},{"t":1776,"v":6.5},{"t":1778,"v":2.5},{"t":1780,"v":1.2},{"t":1782,"v":0.6},{"t":1784,"v":0.4},{"t":1786,"v":0.5},{"t":1788,"v":0},{"t":1790,"v":-0.2},{"t":1795,"v":-0.25},{"t":1800,"v":-0.28}]
},
"concat": [
   {"width": 378, "height": 92, "resolve": {"axis": {"y": "independent"}},
    "title": {"text": "Feedback with I-Coil only", "anchor": "middle", "frame": "group", "offset": 4},
    "layer": [
     {"data": {"name": "la"}, "mark": {"type": "line", "clip": true, "color": "#2b2b2b", "strokeWidth": 1.4, "strokeJoin": "round"},
      "encoding": {"x": {"field": "t", "type": "quantitative", "scale": {"domain": [1500, 1800]}, "axis": {"values": [1600, 1700], "labels": false, "title": null, "tickSize": 3, "tickWidth": 2.5}},
                   "y": {"field": "v", "type": "quantitative", "scale": {"domain": [-10, 100]}, "axis": {"values": [0, 20, 40, 60, 80, 100], "labelExpr": "datum.value==100?'100':datum.value==0?'0':''", "title": null, "tickSize": -6, "labelPadding": 16}}}},
     {"data": {"values": [{"t": 1720.7, "v": 80.3, "label": "128313"}]}, "mark": {"type": "text", "fontSize": 20},
      "encoding": {"x": {"field": "t", "type": "quantitative"}, "y": {"field": "v", "type": "quantitative", "axis": null}, "text": {"field": "label"}}},
     {"data": {"values": [{"t": 1609.6, "v": 20.5, "label": "ELMs"}]}, "mark": {"type": "text", "fontSize": 26, "fontWeight": "bold"},
      "encoding": {"x": {"field": "t", "type": "quantitative"}, "y": {"field": "v", "type": "quantitative", "axis": null}, "text": {"field": "label"}}},
     {"data": {"values": [{"t": 1612, "v": 8, "t2": 1591, "v2": -18.5}, {"t": 1615, "v": 5.7, "t2": 1609.6, "v2": -24.5}, {"t": 1627, "v": 5.7, "t2": 1639.7, "v2": -25.7}]},
      "mark": {"type": "rule", "color": "#5b6ea8", "strokeWidth": 1.2, "clip": false},
      "encoding": {"x": {"field": "t", "type": "quantitative"}, "x2": {"field": "t2"}, "y": {"field": "v", "type": "quantitative", "axis": null}, "y2": {"field": "v2"}}},
     {"data": {"values": [{}]}, "mark": {"type": "rule", "opacity": 0},
      "encoding": {"y": {"datum": 0, "type": "quantitative", "axis": {"orient": "right", "values": [0, 20, 40, 60, 80, 100], "labels": false, "title": null, "tickSize": -6}}}}
    ]},
   {"width": 376, "height": 92, "resolve": {"axis": {"y": "independent"}},
    "title": {"text": "Feedback with I-Coil and C-Coil", "anchor": "middle", "frame": "group", "offset": 8},
    "layer": [
     {"data": {"name": "ra"}, "mark": {"type": "line", "clip": true, "color": "#2b2b2b", "strokeWidth": 1.4, "strokeJoin": "round"},
      "encoding": {"x": {"field": "t", "type": "quantitative", "scale": {"domain": [1500, 1800]}, "axis": {"values": [1600, 1700], "labels": false, "title": null, "tickSize": 3, "tickWidth": 2.5}},
                   "y": {"field": "v", "type": "quantitative", "scale": {"domain": [-10, 100]}, "axis": {"values": [0, 20, 40, 60, 80, 100], "labels": false, "tickSize": -6, "title": ["(a)", "Rot (km/s)"], "titleAngle": 0, "titleAlign": "center", "titleBaseline": "middle", "titleX": -66, "titleY": 27, "titleLineHeight": 30}}}},
     {"data": {"values": [{"t": 1762.5, "v": 81.5, "label": "128312"}]}, "mark": {"type": "text", "fontSize": 20},
      "encoding": {"x": {"field": "t", "type": "quantitative"}, "y": {"field": "v", "type": "quantitative", "axis": null}, "text": {"field": "label"}}},
     {"data": {"values": [{"t": 1650.8, "v": 20.5, "label": "ELMs"}]}, "mark": {"type": "text", "fontSize": 26, "fontWeight": "bold"},
      "encoding": {"x": {"field": "t", "type": "quantitative"}, "y": {"field": "v", "type": "quantitative", "axis": null}, "text": {"field": "label"}}},
     {"data": {"values": [{"t": 1646.8, "v": 4.5, "t2": 1622.9, "v2": -19.7}, {"t": 1646.8, "v": 0.9, "t2": 1642.8, "v2": -25.7}, {"t": 1660.4, "v": 0.9, "t2": 1672.4, "v2": -31.8}]},
      "mark": {"type": "rule", "color": "#5b6ea8", "strokeWidth": 1.2, "clip": false},
      "encoding": {"x": {"field": "t", "type": "quantitative"}, "x2": {"field": "t2"}, "y": {"field": "v", "type": "quantitative", "axis": null}, "y2": {"field": "v2"}}},
     {"data": {"values": [{"t": 1814.4, "v": 18.7, "label": "I-coil\nfast feedback\non ELM-driven\nRWM"}]},
      "mark": {"type": "text", "fontSize": 25, "fontWeight": "bold", "color": "#0e8a6b", "align": "left", "baseline": "top", "lineBreak": "\n", "lineHeight": 30.5, "clip": false},
      "encoding": {"x": {"field": "t", "type": "quantitative"}, "y": {"field": "v", "type": "quantitative", "axis": null}, "text": {"field": "label"}}},
     {"data": {"values": [{"t": 1617, "t2": 1725, "y": 89, "y2": -15.4, "col": "#f3e5cb"}, {"t": 1728, "t2": 1754.5, "y": 107, "y2": -15.4, "col": "#b4d9d2"}]},
      "mark": {"type": "rect", "blend": "multiply", "clip": false},
      "encoding": {"x": {"field": "t", "type": "quantitative"}, "x2": {"field": "t2"}, "y": {"field": "y", "type": "quantitative", "axis": null}, "y2": {"field": "y2"}, "color": {"field": "col", "type": "nominal", "scale": null}}},
     {"data": {"values": [{}]}, "mark": {"type": "rule", "opacity": 0},
      "encoding": {"y": {"datum": 0, "type": "quantitative", "axis": {"orient": "right", "values": [0, 20, 40, 60, 80, 100], "labels": false, "title": null, "tickSize": -6}}}}
    ]},
   {"width": 378, "height": 92, "resolve": {"axis": {"y": "independent"}},
    "layer": [
     {"data": {"name": "lb"}, "transform": [{"fold": ["a", "b", "c", "d"], "as": ["s", "v"]}, {"filter": "isValid(datum.v)"}],
      "mark": {"type": "line", "clip": true, "strokeWidth": 1.3, "strokeJoin": "round"},
      "encoding": {"x": {"field": "t", "type": "quantitative", "scale": {"domain": [1500, 1800]}, "axis": {"values": [1600, 1700], "labels": false, "title": null, "tickSize": 3, "tickWidth": 2.5}},
                   "y": {"field": "v", "type": "quantitative", "scale": {"domain": [-25, 25]}, "axis": {"values": [-20, -10, 0, 10, 20], "labelExpr": "datum.value==20?'20':datum.value==-20?'-20':''", "title": null, "tickSize": -6, "labelPadding": 16}},
                   "color": {"field": "s", "type": "nominal", "scale": {"domain": ["a", "b", "c", "d"], "range": ["#2b2b2b", "#2a7ab9", "#f2c12e", "#e5393f"]}, "legend": null}}},
     {"data": {"values": [{"t": 1717, "t2": 1800, "v": 0}]}, "mark": {"type": "rule", "color": "#e5393f", "strokeWidth": 1.6, "strokeDash": [8, 5]},
      "encoding": {"x": {"field": "t", "type": "quantitative"}, "x2": {"field": "t2"}, "y": {"field": "v", "type": "quantitative", "axis": null}}},
     {"data": {"values": [{}]}, "mark": {"type": "rule", "opacity": 0},
      "encoding": {"y": {"datum": 0, "type": "quantitative", "axis": {"orient": "right", "values": [-20, -10, 0, 10, 20], "labels": false, "title": null, "tickSize": -6}}}}
    ]},
   {"width": 376, "height": 92, "resolve": {"axis": {"y": "independent"}},
    "layer": [
     {"data": {"name": "rb"}, "transform": [{"fold": ["a", "b", "c", "d"], "as": ["s", "v"]}, {"filter": "isValid(datum.v)"}],
      "mark": {"type": "line", "clip": true, "strokeWidth": 1.3, "strokeJoin": "round"},
      "encoding": {"x": {"field": "t", "type": "quantitative", "scale": {"domain": [1500, 1800]}, "axis": {"values": [1600, 1700], "labels": false, "title": null, "tickSize": 3, "tickWidth": 2.5}},
                   "y": {"field": "v", "type": "quantitative", "scale": {"domain": [-25, 25]}, "axis": {"values": [-20, -10, 0, 10, 20], "labels": false, "tickSize": -6, "title": ["(b)", "δBₚ (G)"], "titleAngle": 0, "titleAlign": "center", "titleBaseline": "middle", "titleX": -66, "titleY": 31, "titleLineHeight": 29}},
                   "color": {"field": "s", "type": "nominal", "scale": {"domain": ["a", "b", "c", "d"], "range": ["#2b2b2b", "#2a7ab9", "#f2c12e", "#e5393f"]}, "legend": null}}},
     {"data": {"values": [{"t": 1770, "t2": 1824, "v": -25.5}]}, "mark": {"type": "rule", "color": "#147a78", "strokeWidth": 3.5, "clip": false},
      "encoding": {"x": {"field": "t", "type": "quantitative"}, "x2": {"field": "t2"}, "y": {"field": "v", "type": "quantitative", "axis": null}}},
     {"data": {"values": [{"t": 1768, "v": -25.5}]}, "mark": {"type": "point", "shape": "triangle-left", "size": 300, "filled": true, "opacity": 1, "color": "#147a78", "clip": false},
      "encoding": {"x": {"field": "t", "type": "quantitative"}, "y": {"field": "v", "type": "quantitative", "axis": null}}},
     {"data": {"values": [{"t": 1617, "t2": 1725, "y": 27.45, "y2": -27.45, "col": "#f3e5cb"}, {"t": 1728, "t2": 1754.5, "y": 27.45, "y2": -27.45, "col": "#b4d9d2"}]},
      "mark": {"type": "rect", "blend": "multiply", "clip": false},
      "encoding": {"x": {"field": "t", "type": "quantitative"}, "x2": {"field": "t2"}, "y": {"field": "y", "type": "quantitative", "axis": null}, "y2": {"field": "y2"}, "color": {"field": "col", "type": "nominal", "scale": null}}},
     {"data": {"values": [{}]}, "mark": {"type": "rule", "opacity": 0},
      "encoding": {"y": {"datum": 0, "type": "quantitative", "axis": {"orient": "right", "values": [-20, -10, 0, 10, 20], "labels": false, "title": null, "tickSize": -6}}}}
    ]},
   {"width": 378, "height": 92, "resolve": {"axis": {"y": "independent"}},
    "layer": [
     {"data": {"name": "lc"}, "transform": [{"fold": ["a", "b", "d"], "as": ["s", "v"]}, {"filter": "isValid(datum.v)"}],
      "mark": {"type": "line", "clip": true, "strokeWidth": 1.3, "strokeJoin": "round"},
      "encoding": {"x": {"field": "t", "type": "quantitative", "scale": {"domain": [1500, 1800]}, "axis": {"values": [1600, 1700], "labels": false, "title": null, "tickSize": 3, "tickWidth": 2.5}},
                   "y": {"field": "v", "type": "quantitative", "scale": {"domain": [-1.9, 1.9]}, "axis": {"values": [-1.5, -1, -0.5, 0, 0.5, 1, 1.5], "labelExpr": "datum.value==1.5?'1.5':datum.value==-1.5?'-1.5':''", "title": null, "tickSize": -6, "labelPadding": 16}},
                   "color": {"field": "s", "type": "nominal", "scale": {"domain": ["a", "b", "d"], "range": ["#2b2b2b", "#2a7ab9", "#e5393f"]}, "legend": null}}},
     {"data": {"values": [{"t": 1514.3, "v": -0.98, "label": "Gₚ (I)=16"}]}, "mark": {"type": "text", "fontSize": 24, "fontWeight": "bold", "align": "left", "baseline": "middle"},
      "encoding": {"x": {"field": "t", "type": "quantitative"}, "y": {"field": "v", "type": "quantitative", "axis": null}, "text": {"field": "label"}}},
     {"data": {"values": [{}]}, "mark": {"type": "rule", "opacity": 0},
      "encoding": {"y": {"datum": 0, "type": "quantitative", "axis": {"orient": "right", "values": [-1.5, -1, -0.5, 0, 0.5, 1, 1.5], "labels": false, "title": null, "tickSize": -6}}}}
    ]},
   {"width": 376, "height": 92, "resolve": {"axis": {"y": "independent"}},
    "layer": [
     {"data": {"name": "rc"}, "transform": [{"fold": ["a", "b", "d"], "as": ["s", "v"]}, {"filter": "isValid(datum.v)"}],
      "mark": {"type": "line", "clip": true, "strokeWidth": 1.3, "strokeJoin": "round"},
      "encoding": {"x": {"field": "t", "type": "quantitative", "scale": {"domain": [1500, 1800]}, "axis": {"values": [1600, 1700], "labels": false, "title": null, "tickSize": 3, "tickWidth": 2.5}},
                   "y": {"field": "v", "type": "quantitative", "scale": {"domain": [-1.9, 1.9]}, "axis": {"values": [-1.5, -1, -0.5, 0, 0.5, 1, 1.5], "labels": false, "tickSize": -6, "title": ["(c)", "I-coil (kA)"], "titleAngle": 0, "titleAlign": "center", "titleBaseline": "middle", "titleX": -66, "titleY": 22, "titleLineHeight": 28}},
                   "color": {"field": "s", "type": "nominal", "scale": {"domain": ["a", "b", "d"], "range": ["#2b2b2b", "#2a7ab9", "#e5393f"]}, "legend": null}}},
     {"data": {"values": [{"t": 1515, "v": -1.08, "label": "Gₚ (I)=8"}]}, "mark": {"type": "text", "fontSize": 24, "fontWeight": "bold", "align": "left", "baseline": "middle"},
      "encoding": {"x": {"field": "t", "type": "quantitative"}, "y": {"field": "v", "type": "quantitative", "axis": null}, "text": {"field": "label"}}},
     {"data": {"values": [{"t": 1617, "t2": 1725, "y": 2.086, "y2": -2.086, "col": "#f3e5cb"}, {"t": 1728, "t2": 1754.5, "y": 2.086, "y2": -2.086, "col": "#b4d9d2"}]},
      "mark": {"type": "rect", "blend": "multiply", "clip": false},
      "encoding": {"x": {"field": "t", "type": "quantitative"}, "x2": {"field": "t2"}, "y": {"field": "y", "type": "quantitative", "axis": null}, "y2": {"field": "y2"}, "color": {"field": "col", "type": "nominal", "scale": null}}},
     {"data": {"values": [{}]}, "mark": {"type": "rule", "opacity": 0},
      "encoding": {"y": {"datum": 0, "type": "quantitative", "axis": {"orient": "right", "values": [-1.5, -1, -0.5, 0, 0.5, 1, 1.5], "labels": false, "title": null, "tickSize": -6}}}}
    ]},
   {"width": 378, "height": 92, "resolve": {"axis": {"y": "independent"}},
    "layer": [
     {"data": {"name": "ld"}, "transform": [{"fold": ["b", "d"], "as": ["s", "v"]}, {"filter": "isValid(datum.v)"}],
      "mark": {"type": "line", "clip": true, "strokeWidth": 1.6, "strokeJoin": "round"},
      "encoding": {"x": {"field": "t", "type": "quantitative", "scale": {"domain": [1500, 1800]}, "axis": {"values": [1600, 1700], "labels": false, "title": null, "tickSize": 3, "tickWidth": 2.5}},
                   "y": {"field": "v", "type": "quantitative", "scale": {"domain": [-0.75, 0.75]}, "axis": {"values": [-0.6, -0.4, -0.2, 0, 0.2, 0.4, 0.6], "labelExpr": "datum.value==0.6?'0.6':datum.value==-0.6?'-0.6':''", "title": null, "tickSize": -6, "labelPadding": 16}},
                   "color": {"field": "s", "type": "nominal", "scale": {"domain": ["b", "d"], "range": ["#2a7ab9", "#e5393f"]}, "legend": null}}},
     {"data": {"values": [{"t": 1502, "t2": 1795, "v": -0.64}]}, "mark": {"type": "rule", "color": "#444", "strokeWidth": 1.6, "strokeDash": [1.6, 11]},
      "encoding": {"x": {"field": "t", "type": "quantitative"}, "x2": {"field": "t2"}, "y": {"field": "v", "type": "quantitative", "axis": null}}},
     {"data": {"values": [{"t": 1514.3, "v": -0.41, "label": "Gₚ (C)=0"}]}, "mark": {"type": "text", "fontSize": 24, "fontWeight": "bold", "align": "left", "baseline": "middle"},
      "encoding": {"x": {"field": "t", "type": "quantitative"}, "y": {"field": "v", "type": "quantitative", "axis": null}, "text": {"field": "label"}}},
     {"data": {"values": [{}]}, "mark": {"type": "rule", "opacity": 0},
      "encoding": {"y": {"datum": 0, "type": "quantitative", "axis": {"orient": "right", "values": [-0.6, -0.4, -0.2, 0, 0.2, 0.4, 0.6], "labels": false, "title": null, "tickSize": -6}}}}
    ]},
   {"width": 376, "height": 92, "resolve": {"axis": {"y": "independent"}},
    "layer": [
     {"data": {"name": "rd"}, "transform": [{"fold": ["a", "b", "d"], "as": ["s", "v"]}, {"filter": "isValid(datum.v)"}],
      "mark": {"type": "line", "clip": true, "strokeWidth": 1.5, "strokeJoin": "round"},
      "encoding": {"x": {"field": "t", "type": "quantitative", "scale": {"domain": [1500, 1800]}, "axis": {"values": [1600, 1700], "labels": false, "title": null, "tickSize": 3, "tickWidth": 2.5}},
                   "y": {"field": "v", "type": "quantitative", "scale": {"domain": [-0.75, 0.75]}, "axis": {"values": [-0.6, -0.4, -0.2, 0, 0.2, 0.4, 0.6], "labels": false, "tickSize": -6, "title": ["(d)", "C-coil (kA)"], "titleAngle": 0, "titleAlign": "center", "titleBaseline": "middle", "titleX": -66, "titleY": 3, "titleLineHeight": 41}},
                   "color": {"field": "s", "type": "nominal", "scale": {"domain": ["a", "b", "d"], "range": ["#2b2b2b", "#2a7ab9", "#e5393f"]}, "legend": null}}},
     {"data": {"values": [{"t": 1515, "v": -0.35, "label": "Gₚ (C)=40"}]}, "mark": {"type": "text", "fontSize": 24, "fontWeight": "bold", "align": "left", "baseline": "middle"},
      "encoding": {"x": {"field": "t", "type": "quantitative"}, "y": {"field": "v", "type": "quantitative", "axis": null}, "text": {"field": "label"}}},
     {"data": {"values": [{"t": 1617, "t2": 1725, "y": 0.8234, "y2": -0.8234, "col": "#f3e5cb"}, {"t": 1728, "t2": 1754.5, "y": 0.8234, "y2": -0.8234, "col": "#b4d9d2"}]},
      "mark": {"type": "rect", "blend": "multiply", "clip": false},
      "encoding": {"x": {"field": "t", "type": "quantitative"}, "x2": {"field": "t2"}, "y": {"field": "y", "type": "quantitative", "axis": null}, "y2": {"field": "y2"}, "color": {"field": "col", "type": "nominal", "scale": null}}},
     {"data": {"values": [{"t": 1698, "t2": 1840, "v": 0.46}]}, "mark": {"type": "rule", "color": "#e63c41", "strokeWidth": 4, "clip": false},
      "encoding": {"x": {"field": "t", "type": "quantitative"}, "x2": {"field": "t2"}, "y": {"field": "v", "type": "quantitative", "axis": null}}},
     {"data": {"values": [{"t": 1696, "v": 0.46}]}, "mark": {"type": "point", "shape": "triangle-left", "size": 320, "filled": true, "opacity": 1, "color": "#e63c41", "clip": false},
      "encoding": {"x": {"field": "t", "type": "quantitative"}, "y": {"field": "v", "type": "quantitative", "axis": null}}},
     {"data": {"values": [{"t": 1814.4, "v": 0.23, "label": "C-coil\nslow feedback\nto evolving\nplasma\ncondition"}]},
      "mark": {"type": "text", "fontSize": 25, "fontWeight": "bold", "color": "#c9313d", "align": "left", "baseline": "top", "lineBreak": "\n", "lineHeight": 30.5, "clip": false},
      "encoding": {"x": {"field": "t", "type": "quantitative"}, "y": {"field": "v", "type": "quantitative", "axis": null}, "text": {"field": "label"}}},
     {"data": {"values": [{}]}, "mark": {"type": "rule", "opacity": 0},
      "encoding": {"y": {"datum": 0, "type": "quantitative", "axis": {"orient": "right", "values": [-0.6, -0.4, -0.2, 0, 0.2, 0.4, 0.6], "labels": false, "title": null, "tickSize": -6}}}}
    ]},
   {"width": 378, "height": 92, "resolve": {"axis": {"y": "independent"}},
    "layer": [
     {"data": {"name": "le"}, "mark": {"type": "line", "clip": true, "color": "#2b2b2b", "strokeWidth": 1.4, "strokeJoin": "round"},
      "encoding": {"x": {"field": "t", "type": "quantitative", "scale": {"domain": [1500, 1800]}, "axis": {"values": [1500, 1600, 1700, 1800], "format": "d", "labelExpr": "datum.value==1500?'1500':datum.value==1800?'1800':''", "labelFlush": true, "labelFlushOffset": 14, "labelFontSize": 23, "labelPadding": 9, "tickSize": 3, "tickWidth": 2.5, "title": "Time (ms)", "titleFontSize": 25, "titlePadding": -14}},
                   "y": {"field": "v", "type": "quantitative", "scale": {"domain": [-0.45, 5.95]}, "axis": {"values": [0, 1, 2, 3, 4, 5], "labelExpr": "datum.value==5?'5':datum.value==0?'0':''", "title": null, "tickSize": -6, "labelPadding": 16}}}},
     {"data": {"values": [{"t": 1589.7, "v": 3.44, "label": "(I)"}, {"t": 1614, "v": 3.44, "label": "(II)"}, {"t": 1654.8, "v": 2.4, "label": "(III)"}]}, "mark": {"type": "text", "fontSize": 20},
      "encoding": {"x": {"field": "t", "type": "quantitative"}, "y": {"field": "v", "type": "quantitative", "axis": null}, "text": {"field": "label"}}},
     {"data": {"values": [{}]}, "mark": {"type": "rule", "opacity": 0},
      "encoding": {"y": {"datum": 0, "type": "quantitative", "axis": {"orient": "right", "values": [0, 1, 2, 3, 4, 5], "labels": false, "title": null, "tickSize": -6}}}}
    ]},
   {"width": 376, "height": 92, "resolve": {"axis": {"y": "independent"}},
    "layer": [
     {"data": {"name": "re"}, "mark": {"type": "line", "clip": true, "color": "#2b2b2b", "strokeWidth": 1.4, "strokeJoin": "round"},
      "encoding": {"x": {"field": "t", "type": "quantitative", "scale": {"domain": [1500, 1800]}, "axis": {"values": [1500, 1600, 1700, 1800], "format": "d", "labelExpr": "datum.value==1500?'1500':datum.value==1800?'1800':''", "labelFlush": true, "labelFlushOffset": 14, "labelFontSize": 23, "labelPadding": 9, "tickSize": 3, "tickWidth": 2.5, "title": "Time (ms)", "titleFontSize": 25, "titlePadding": -14}},
                   "y": {"field": "v", "type": "quantitative", "scale": {"domain": [-0.45, 5.95]}, "axis": {"values": [0, 1, 2, 3, 4, 5], "labels": false, "tickSize": -6, "title": ["(e)", "Dα"], "titleAngle": 0, "titleAlign": "center", "titleBaseline": "middle", "titleX": -66, "titleY": 24, "titleLineHeight": 35}}}},
     {"data": {"values": [{"t": 1591.8, "v": 4.97, "label": "(I)"}, {"t": 1622, "v": 4.83, "label": "(II)"}, {"t": 1652.4, "v": 2.9, "label": "(III)"}]}, "mark": {"type": "text", "fontSize": 20},
      "encoding": {"x": {"field": "t", "type": "quantitative"}, "y": {"field": "v", "type": "quantitative", "axis": null}, "text": {"field": "label"}}},
     {"data": {"values": [{"t": 1617, "t2": 1725, "y": 6.263, "y2": -0.45, "col": "#f3e5cb"}, {"t": 1728, "t2": 1754.5, "y": 6.263, "y2": -0.45, "col": "#b4d9d2"}]},
      "mark": {"type": "rect", "blend": "multiply", "clip": false},
      "encoding": {"x": {"field": "t", "type": "quantitative"}, "x2": {"field": "t2"}, "y": {"field": "y", "type": "quantitative", "axis": null}, "y2": {"field": "y2"}, "color": {"field": "col", "type": "nominal", "scale": null}}},
     {"data": {"values": [{}]}, "mark": {"type": "rule", "opacity": 0},
      "encoding": {"y": {"datum": 0, "type": "quantitative", "axis": {"orient": "right", "values": [0, 1, 2, 3, 4, 5], "labels": false, "title": null, "tickSize": -6}}}}
    ]}
]
}
